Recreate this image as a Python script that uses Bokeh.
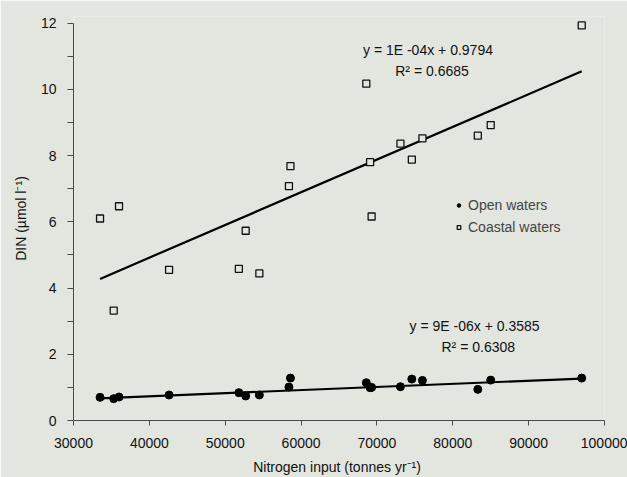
import numpy as np
from bokeh.plotting import figure
from bokeh.models import Label, FixedTicker, Legend, LegendItem, BasicTickFormatter
from bokeh.embed import file_html
from bokeh.resources import INLINE

# Data
nitrogen_input = [33500, 35300, 36000, 42600, 51800, 52700, 54500, 58400, 58600,
                  68600, 69100, 69300, 73100, 74600, 76000, 83300, 85000, 97000]
coastal_din = [6.10, 3.32, 6.47, 4.55, 4.58, 5.73, 4.44, 7.08, 7.68,
               10.17, 7.80, 6.16, 8.36, 7.88, 8.52, 8.60, 8.92, 11.93]
open_x = [33500, 35300, 36000, 42600, 51800, 52700, 54500, 58400, 58600,
          68600, 69100, 69300, 73100, 74600, 76000, 83300, 85000, 97000]
open_din = [0.70, 0.66, 0.71, 0.77, 0.84, 0.74, 0.77, 1.01, 1.28,
            1.14, 0.99, 1.00, 1.02, 1.25, 1.21, 0.94, 1.22, 1.28]

# Trend lines as drawn (slope, intercept)
coastal_fit = [9.87e-5, 0.97]
open_fit = [9.4e-6, 0.355]

x_ticks = [30000, 40000, 50000, 60000, 70000, 80000, 90000, 100000]
y_ticks = [0, 2, 4, 6, 8, 10, 12]
y_minor = [1, 3, 5, 7, 9, 11]

eq_coastal = ["y = 1E -04x + 0.9794", "R² = 0.6685"]
eq_open = ["y = 9E -06x + 0.3585", "R² = 0.6308"]

x_label = "Nitrogen input (tonnes  yr⁻¹)"
y_label = "DIN (µmol l⁻¹)"

BG = "#e3e6df"
AX = "#4a4a4a"
FONT = "Liberation Sans"

p = figure(width=627, height=477, output_backend="svg", toolbar_location=None,
           x_range=(30000, 100000), y_range=(0, 12.2),
           min_border_left=73, min_border_right=23, min_border_top=16, min_border_bottom=56)
p.background_fill_color = BG
p.border_fill_color = BG
p.outline_line_color = None
p.grid.visible = False

p.xaxis.ticker = FixedTicker(ticks=x_ticks)
p.yaxis.ticker = FixedTicker(ticks=y_ticks, minor_ticks=y_minor)
p.xaxis.formatter = BasicTickFormatter(use_scientific=False)
p.yaxis.bounds = (0, 12)
p.xaxis.bounds = (30000, 100000)
for ax in (p.xaxis, p.yaxis):
    ax.axis_line_color = AX
    ax.major_tick_line_color = AX
    ax.minor_tick_line_color = AX
    ax.major_tick_in = 0
    ax.minor_tick_in = 0
    ax.major_label_text_font = FONT
    ax.major_label_text_font_size = "14px"
    ax.major_label_text_color = "#111111"
    ax.axis_label_text_font = FONT
    ax.axis_label_text_font_style = "normal"
    ax.axis_label_text_color = "#111111"
p.xaxis.major_tick_out = 5
p.xaxis.minor_tick_out = 0
p.yaxis.major_tick_out = 6
p.yaxis.minor_tick_out = 6
p.xaxis.major_label_standoff = 12
p.yaxis.major_label_standoff = 11
p.xaxis.axis_label = x_label
p.yaxis.axis_label = y_label
p.xaxis.axis_label_text_font_size = "14px"
p.yaxis.axis_label_text_font_size = "14px"
p.xaxis.axis_label_standoff = 8
p.yaxis.axis_label_standoff = 9

# trend lines
cx = np.array([min(nitrogen_input), max(nitrogen_input)], dtype=float)
p.line(cx, coastal_fit[0] * cx + coastal_fit[1], line_color="black", line_width=2.2)
ox = np.array([min(open_x), max(open_x)], dtype=float)
p.line(ox, open_fit[0] * ox + open_fit[1], line_color="black", line_width=2.2)

r_open = p.scatter(open_x, open_din, marker="circle", size=8, fill_color="black", line_color="black")
r_coast = p.scatter(nitrogen_input, coastal_din, marker="square", size=7,
                    fill_color=BG, line_color="#111111", line_width=1.3)

legend = Legend(items=[LegendItem(label="Open waters", renderers=[r_open]),
                       LegendItem(label="Coastal waters", renderers=[r_coast])],
                location=(381, 185), orientation="vertical",
                border_line_color=None, background_fill_alpha=0,
                label_text_font=FONT, label_text_font_size="14px",
                glyph_width=9, glyph_height=16, label_height=16, spacing=6,
                label_standoff=5, padding=0, margin=0)
p.add_layout(legend, "center")

# equations
for txt, x, y in [(eq_coastal[0], 76730, 11.19), (eq_coastal[1], 77260, 10.56),
                  (eq_open[0], 82870, 2.845), (eq_open[1], 83360, 2.22)]:
    p.add_layout(Label(x=x, y=y, text=txt, text_align="center", text_baseline="middle",
                       text_font=FONT, text_font_size="14px", text_color="#111111"))

open("out.html", "w").write(file_html(p, INLINE))
